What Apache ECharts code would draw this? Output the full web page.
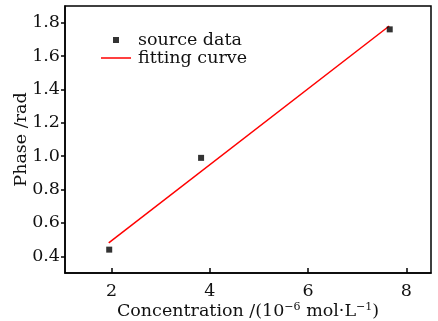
<!DOCTYPE html>
<html><head><meta charset="utf-8">
<script src="https://cdn.jsdelivr.net/npm/echarts@6/dist/echarts.min.js"></script>
<style>html,body{margin:0;padding:0;background:#fff}#c{width:438px;height:321px}</style>
</head><body><div id="c"></div>
<script>
const sourceX = [1.95, 3.82, 7.66];
const sourceY = [0.44, 0.99, 1.76];
const fitX = [1.94, 7.65];
const fitY = [0.48, 1.78];
const seriesNames = ['source data', 'fitting curve'];

const F = 'DejaVu Serif';
const FS = 17.5;
const chart = echarts.init(document.getElementById('c'));
chart.setOption({
  animation: false,
  grid: {left: 65, right: 7, top: 6, bottom: 48, show: true, borderColor: '#000', borderWidth: 1.5,
         containLabel: false, outerBoundsMode: 'none'},
  legend: {
    left: 96, top: 26, orient: 'vertical', itemWidth: 30, itemHeight: 6, itemGap: 0,
    symbolKeepAspect: true,
    textStyle: {fontFamily: F, fontSize: FS, color: '#111', padding: [0, 0, 0, 2]},
    data: [
      {name: seriesNames[0], icon: 'path://M0 0H10V10H0Z'},
      {name: seriesNames[1], icon: 'path://M0 0H40V2H0Z'}
    ]
  },
  xAxis: {
    type: 'value', min: 1.05, max: 8.5, splitNumber: 4,
    splitLine: {show: false},
    axisLine: {lineStyle: {color: '#000', width: 1.5}},
    axisTick: {inside: true, length: 5, lineStyle: {color: '#000', width: 1.5}},
    axisLabel: {showMinLabel: false, showMaxLabel: false, margin: 9, fontFamily: F, fontSize: FS, color: '#111'},
    name: 'Concentration /(10{s|−6} mol·L{s|−1})',
    nameLocation: 'middle', nameGap: 29, nameMoveOverlap: false,
    nameTextStyle: {fontFamily: F, fontSize: FS, color: '#111',
      rich: {s: {fontFamily: F, fontSize: 11, verticalAlign: 'top', padding: [0,0,8,0], color: '#111'}}}
  },
  yAxis: {
    type: 'value', min: 0.3, max: 1.9, splitNumber: 8,
    splitLine: {show: false},
    axisLine: {lineStyle: {color: '#000', width: 1.5}},
    axisTick: {inside: false, length: 4, lineStyle: {color: '#000', width: 1.5}},
    axisLabel: {showMinLabel: false, showMaxLabel: false, margin: 5, fontFamily: F, fontSize: FS, color: '#111',
      formatter: v => v.toFixed(1)},
    name: 'Phase /rad', nameLocation: 'middle', nameGap: 35, nameMoveOverlap: false,
    nameTextStyle: {fontFamily: F, fontSize: FS, color: '#111'}
  },
  series: [
    {name: seriesNames[0], type: 'scatter', symbol: 'rect', symbolSize: 6,
     itemStyle: {color: '#000'}, z: 3,
     data: sourceX.map((x, i) => [x, sourceY[i]])},
    {name: seriesNames[1], type: 'line', showSymbol: false, symbol: 'none',
     lineStyle: {color: '#ff0000', width: 1.5}, itemStyle: {color: '#ff0000'},
     data: fitX.map((x, i) => [x, fitY[i]])}
  ]
});
</script></body></html>
